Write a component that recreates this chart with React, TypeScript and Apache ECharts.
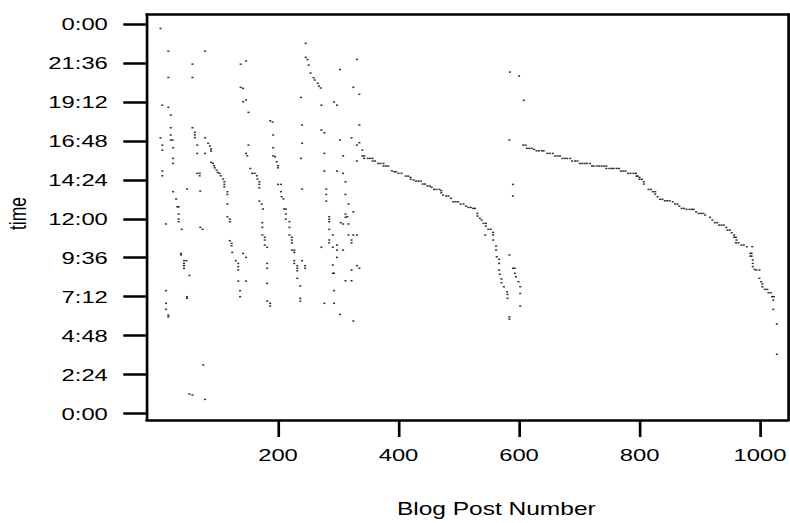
import React, { useEffect, useRef } from "react";
import * as echarts from "echarts";

// ---- data: [blog post number, time of day in hours] ----
const earlyScatterA: [number, number][] = [
  [5,23.73],[18,22.33],[79,22.33],[246,22.81],[58,21.53],[138,21.53],[147,21.72],[246,21.95],[249,21.81],[251,21.47],
  [331,21.82],[303,21.2],[254,20.98],[259,20.69],[261,20.55],[266,20.35],[268,20.18],[271,20.06],[18,20.71],[58,20.71],
  [138,20.1],[142,20.04],[325,20.1],[335,19.67],[238,19.48],[142,19.21],[147,19.32],[8,19.0],[18,18.87],[272,19.0],
  [293,19.2],[298,19.0],[22,18.39],[151,18.56],[187,18.04],[191,17.96],[22,17.61],[58,17.61],[62,17.33],[62,17.17],
  [62,17.0],[22,17.16],[22,16.85],[25,16.85],[5,16.99],[8,16.54],[8,16.23],[26,16.38],[26,15.72],[26,15.41],
  [66,16.54],[66,16.03],[79,16.99],[84,16.65],[87,16.48],[89,16.3],[89,16.17],[79,16.03],[89,15.48],[92,15.42],
  [94,15.27],[95,15.14],[98,15.0],[100,14.86],[103,14.8],[105,14.65],[109,14.45],[111,14.28],[111,14.12],[111,13.97],
  [116,13.67],[116,13.5],[116,12.91],[116,12.13],[120,11.98],[66,14.8],[70,14.8],[70,14.65],[8,14.94],[8,14.65],
  [26,13.67],[31,13.22],[33,12.74],[35,12.74],[35,12.29],[35,11.98],[49,13.83],[71,13.71],[151,16.54],[147,16.03],
  [149,15.88],[154,15.1],[157,14.8],[161,14.8],[165,14.65],[166,14.45],[169,14.28],[169,14.12],[169,13.91],[169,13.09],
  [173,12.91],[175,12.6],[192,17.16],[192,16.38],[192,15.88],[195,15.82],[198,15.51],[200,15.27],[200,15.14],[200,14.12],
  [205,14.12],[205,13.67],[206,13.36],[209,13.22],[210,12.6],[213,12.6],[213,12.29],[213,11.98],[240,17.78],[240,16.65],
  [238,15.72],[240,13.83],[272,17.47],[277,17.3],[277,16.03],[277,14.94],[280,13.83],[280,13.5],[280,13.09],[285,12.13],
  [303,16.85],[308,15.88],[298,14.94],[308,14.8],[312,14.28],[312,13.5],[317,12.91],[312,12.29],[315,12.13],[325,12.43],
  [335,17.78],[322,16.99],[331,16.54],[335,16.69],[331,15.56],
];

const earlyScatterB: [number, number][] = [
  [35,11.82],[14,11.68],[40,11.35],[71,11.47],[75,11.35],[120,11.82],[120,10.65],[123,10.49],[123,10.34],[124,9.93],
  [130,9.42],[134,9.25],[134,9.05],[134,8.84],[142,9.87],[147,9.62],[134,8.16],[147,8.16],[137,7.57],[137,7.2],
  [174,11.76],[174,11.47],[174,11.0],[178,10.86],[178,10.69],[178,10.38],[182,10.24],[39,9.87],[39,9.77],[44,9.42],
  [48,9.42],[44,9.25],[44,9.11],[44,8.95],[53,8.51],[14,7.57],[49,7.2],[49,7.1],[14,6.79],[14,6.42],
  [18,6.07],[18,5.96],[182,9.25],[182,8.95],[182,8.02],[182,6.93],[187,6.79],[187,6.62],[219,11.82],[219,11.47],
  [219,11.0],[223,10.86],[223,10.69],[223,10.52],[223,10.07],[227,10.07],[227,9.93],[227,9.42],[227,9.25],[232,9.11],
  [232,8.95],[232,8.8],[240,9.42],[245,9.11],[245,8.95],[232,8.33],[237,7.86],[237,7.1],[237,6.93],[285,11.97],
  [285,11.82],[285,11.35],[291,11.0],[285,10.69],[285,10.52],[272,10.24],[291,10.24],[298,10.38],[298,10.07],[308,10.07],
  [298,9.62],[291,9.15],[291,8.64],[293,8.64],[293,7.57],[277,6.79],[293,6.79],[303,6.11],[312,12.09],[317,11.68],
  [308,11.68],[304,11.76],[317,11.0],[325,11.0],[331,11.0],[322,10.69],[322,10.52],[312,8.18],[322,8.18],[322,8.84],
  [331,9.11],[335,8.95],[325,5.7],[76,2.99],[53,1.2],[58,1.14],[79,0.87],
];

const middleRun: [number, number][] = [
  [340,16.23],[340,15.87],[343,15.87],[343,15.72],[349,15.72],[353,15.72],[357,15.72],[357,15.56],[361,15.56],[366,15.41],
  [370,15.41],[375,15.41],[375,15.25],[379,15.25],[383,15.25],[389,14.96],[393,14.9],[396,14.9],[400,14.8],[405,14.8],
  [412,14.63],[416,14.63],[420,14.55],[420,14.43],[425,14.39],[429,14.32],[433,14.32],[437,14.32],[440,14.14],[444,14.14],
  [448,14.02],[452,14.02],[455,13.94],[459,13.81],[463,13.81],[468,13.81],[471,13.73],[471,13.6],[474,13.46],[479,13.4],
  [483,13.4],[487,13.26],[491,13.05],[495,13.05],[499,13.05],[503,12.91],[508,12.91],[512,12.78],[516,12.7],[520,12.7],
  [524,12.64],[527,12.64],[531,12.33],[531,12.17],[535,12.03],[538,11.92],[541,11.72],[545,11.72],[545,11.55],[549,11.35],
  [553,11.35],[557,11.16],[557,11.0],[557,10.69],[544,11.0],[562,10.32],[562,10.07],[563,9.66],[567,9.5],[567,9.25],
  [567,8.84],[568,8.58],[571,8.29],[571,8.06],[575,7.81],[580,7.5],[581,7.34],[581,7.1],
];

const strayPoints: [number, number][] = [
  [584,16.85],[590,14.12],[590,13.4],[608,19.3],[585,21.04],[600,20.8],[584,9.77],[590,8.95],[593,8.95],[593,8.64],
  [595,8.43],[599,8.12],[602,7.81],[602,7.4],[602,6.62],[584,5.96],[584,5.82],
];

const lateRun: [number, number][] = [
  [607,16.54],[611,16.54],[613,16.34],[617,16.34],[621,16.34],[625,16.28],[629,16.19],[633,16.19],[638,16.19],[641,16.19],
  [647,16.03],[651,16.03],[656,16.03],[660,15.87],[664,15.87],[668,15.87],[672,15.72],[676,15.72],[680,15.72],[685,15.72],
  [688,15.56],[693,15.56],[697,15.56],[701,15.41],[705,15.41],[709,15.41],[713,15.41],[718,15.41],[721,15.25],[724,15.25],
  [729,15.25],[733,15.25],[737,15.25],[741,15.25],[745,15.25],[745,15.1],[750,15.1],[754,15.1],[757,15.1],[762,15.1],
  [766,15.1],[769,14.94],[773,14.94],[777,14.94],[781,14.8],[785,14.8],[790,14.8],[794,14.8],[795,14.63],[797,14.63],
  [800,14.55],[800,14.43],[804,14.43],[807,14.28],[807,14.14],[815,13.81],[819,13.81],[822,13.67],[826,13.67],[826,13.52],
  [830,13.36],[834,13.2],[838,13.2],[842,13.11],[846,13.11],[850,13.11],[855,13.05],[859,12.91],[863,12.91],[866,12.78],
  [870,12.64],[874,12.64],[878,12.58],[883,12.58],[887,12.58],[890,12.58],[894,12.43],[898,12.33],[902,12.33],[906,12.33],
  [909,12.23],[917,12.09],[921,11.92],[925,11.76],[929,11.76],[932,11.61],[936,11.61],[940,11.61],[944,11.47],[946,11.3],
  [950,11.3],[953,11.14],[957,11.0],[957,10.86],[960,10.86],[961,10.69],[960,10.52],[964,10.52],[969,10.38],[973,10.38],
  [978,10.28],[987,10.28],[984,9.87],[986,9.87],[984,9.7],[986,9.7],[988,9.46],[988,9.25],[988,9.05],[991,8.88],
  [994,8.84],[999,8.84],[999,8.33],[1002,8.12],[1004,7.98],[1004,7.81],[1008,7.65],[1012,7.65],[1014,7.44],[1018,7.44],
  [1020,7.2],[1023,7.2],[1022,6.99],[1022,6.42],[1028,5.51],[1028,3.65],
];

const xTickValues = [200, 400, 600, 800, 1000];
const yTickValues = [0, 2.4, 4.8, 7.2, 9.6, 12, 14.4, 16.8, 19.2, 21.6, 24];

const allPoints = [...earlyScatterA, ...earlyScatterB, ...middleRun, ...strayPoints, ...lateRun];

// The reference is horizontally stretched: draw at a narrower width, then scale in x.
const FULL_W = 790;
const FULL_H = 523;
const BASE_W = 564;

const FONT = "'Liberation Sans', Arial, Helvetica, sans-serif";

function fmtTime(v: number): string {
  const mins = Math.round(v * 60) % 1440;
  const h = Math.floor(mins / 60);
  const m = mins % 60;
  return `${h}:${String(m).padStart(2, "0")}`;
}

export default function App() {
  const ref = useRef<HTMLDivElement>(null);
  useEffect(() => {
    if (!ref.current) return;
    const chart = echarts.init(ref.current, null, { renderer: "svg" });
    const xMin = -17.3, xMax = 1046.5, yMin = -0.4, yMax = 24.62;
    const lineH = { color: "#000", width: 2.7 };
    const lineV = { color: "#000", width: 1.9 };
    chart.setOption({
      animation: false,
      backgroundColor: "#fff",
      grid: {
        left: 105, right: BASE_W - 562.6, top: 14, bottom: FULL_H - 420,
        containLabel: false, outerBoundsMode: "none",
      },
      xAxis: [
        {
          type: "value", min: xMin, max: xMax, position: "bottom",
          axisLine: { show: true, onZero: false, lineStyle: lineH },
          axisTick: { show: true, customValues: xTickValues, length: 17, lineStyle: { color: "#000", width: 1.9 } },
          axisLabel: {
            show: true, customValues: xTickValues, margin: 26, fontSize: 17, color: "#000", fontFamily: FONT,
            formatter: (v: number) => String(v),
          },
          splitLine: { show: false },
          name: "Blog Post Number", nameLocation: "middle", nameGap: 80,
          nameTextStyle: { fontSize: 17.5, color: "#000", fontFamily: FONT, padding: [0, 0, 0, 41] },
        },
        {
          type: "value", min: xMin, max: xMax, position: "top",
          axisLine: { show: true, onZero: false, lineStyle: lineH },
          axisTick: { show: false }, axisLabel: { show: false }, splitLine: { show: false },
        },
      ],
      yAxis: [
        {
          type: "value", min: yMin, max: yMax, position: "left",
          axisLine: { show: true, onZero: false, lineStyle: lineV },
          axisTick: { show: true, customValues: yTickValues, length: 17, lineStyle: { color: "#000", width: 2.5 } },
          axisLabel: { show: true, customValues: yTickValues, formatter: fmtTime, margin: 28, fontSize: 17, color: "#000", fontFamily: FONT },
          splitLine: { show: false },
          name: "time", nameLocation: "middle", nameGap: 83,
          nameTextStyle: { fontSize: 17.5, color: "#000", fontFamily: FONT, padding: [0, 0, 0, 7] },
        },
        {
          type: "value", min: yMin, max: yMax, position: "right",
          axisLine: { show: true, onZero: false, lineStyle: lineV },
          axisTick: { show: false }, axisLabel: { show: false }, splitLine: { show: false },
        },
      ],
      series: [
        {
          type: "scatter", data: allPoints, symbol: "rect", symbolSize: 1.5,
          itemStyle: { color: "#000" }, silent: true,
        },
      ],
    });
    return () => chart.dispose();
  }, []);
  return (
    <div style={{ position: "fixed", left: 0, top: 0, width: FULL_W, height: FULL_H, overflow: "hidden", background: "#fff" }}>
      <div
        ref={ref}
        style={{ width: BASE_W, height: FULL_H, transform: `scaleX(${FULL_W / BASE_W})`, transformOrigin: "0 0" }}
      />
    </div>
  );
}
